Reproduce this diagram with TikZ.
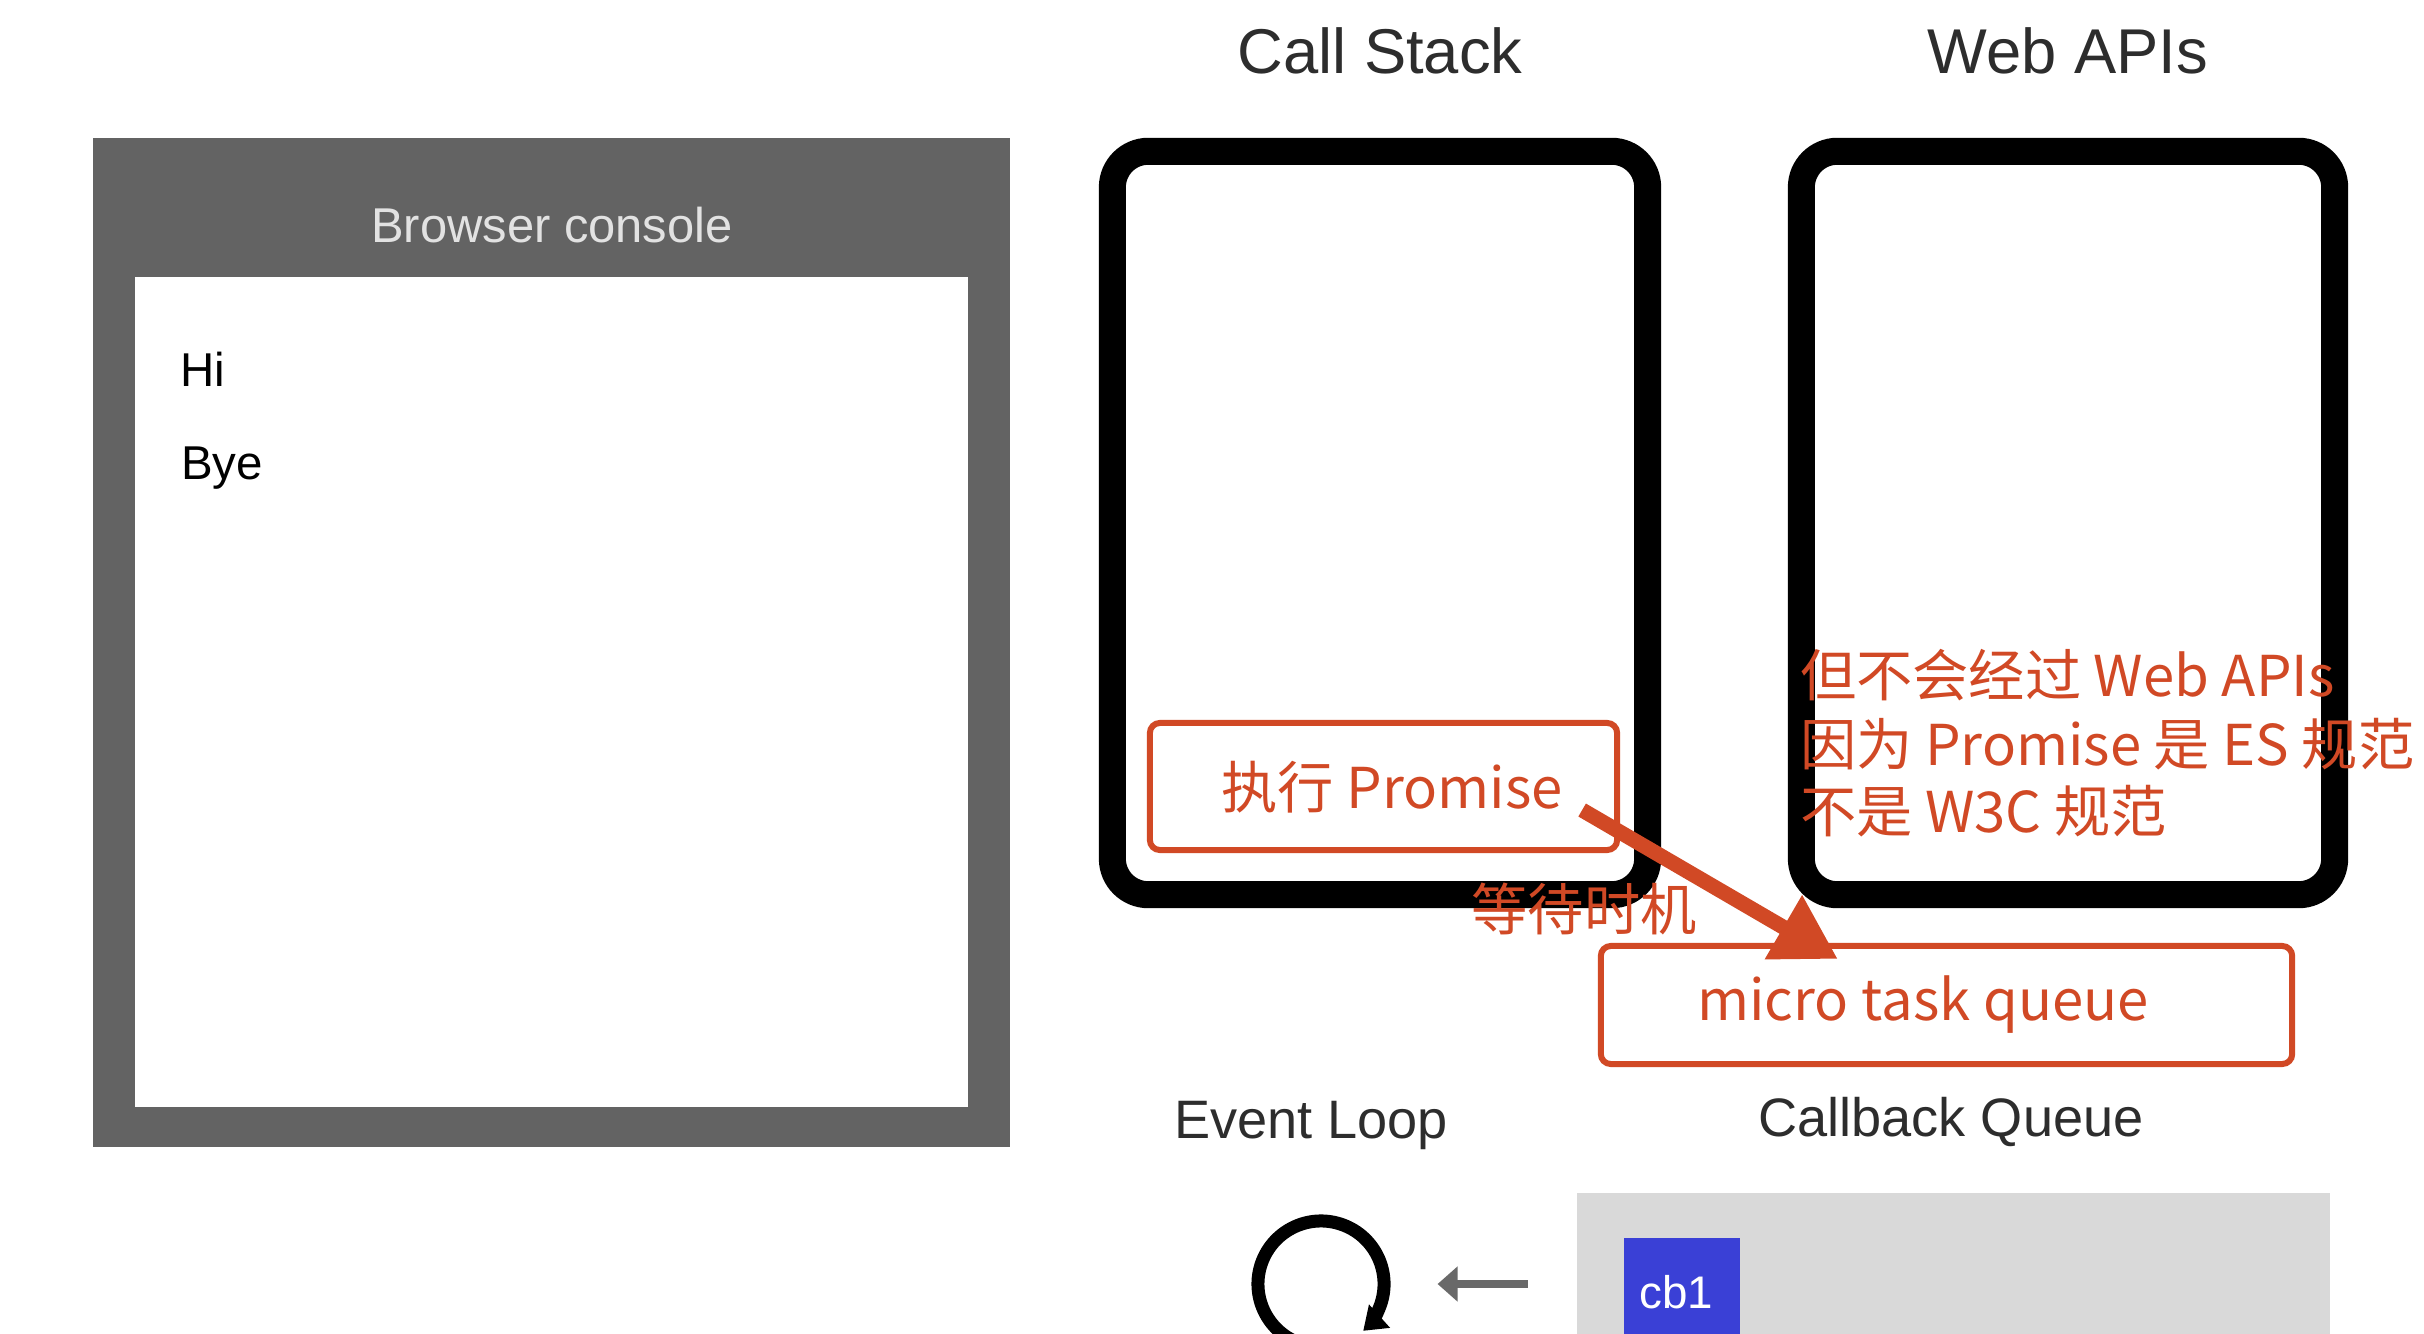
\documentclass[tikz,border=0pt]{standalone}
\usepackage{fontspec}
\setmainfont{Liberation Sans}
\newfontfamily\cjk{Noto Sans CJK SC}
\usetikzlibrary{arrows.meta,calc}
\definecolor{consolegray}{RGB}{99,99,99}
\definecolor{consoletext}{RGB}{226,226,226}
\definecolor{notered}{RGB}{209,73,37}
\definecolor{labelgray}{RGB}{45,45,45}
\definecolor{queuegray}{RGB}{217,217,217}
\definecolor{cbblue}{RGB}{58,64,214}
\definecolor{arrowgray}{RGB}{105,105,105}
\begin{document}
\begin{tikzpicture}[x=0.01cm,y=-0.01cm,
  plain/.style={inner sep=0pt,outer sep=0pt},
  panel/.style={plain,draw=black,line width=0.27cm,rounded corners=0.36cm},
  redbox/.style={plain,draw=notered,line width=0.06cm,rounded corners=0.1cm},
  title/.style={plain,anchor=base,text=labelgray,font=\fontsize{18}{20}\selectfont},
  sublabel/.style={plain,anchor=base,text=labelgray,font=\fontsize{15.4}{17}\selectfont},
  consoleline/.style={plain,anchor=base west,text=black,font=\fontsize{13.5}{15}\selectfont},
  redtext/.style={plain,text=notered,font=\cjk\fontsize{16}{19}\selectfont},
  redarrow/.style={draw=notered,line width=0.15cm,-{Triangle[length=0.63cm,width=0.7cm]}},
  grayarrow/.style={draw=arrowgray,line width=0.08cm,-{Triangle[length=0.2cm,width=0.34cm]}},
  loopstroke/.style={draw=black,line width=0.13cm,-{Triangle[length=0.22cm,width=0.3cm]}}
]
\useasboundingbox (0,0) rectangle (2424,1334);
\fill[white] (0,0) rectangle (2424,1334);
\clip (0,0) rectangle (2424,1334);

% browser console window
\node[plain,fill=consolegray,minimum width=9.17cm,minimum height=10.09cm] (console) at (551.5,642.5) {};
\node[plain,fill=white,minimum width=8.33cm,minimum height=8.30cm] (consolebody) at (551.5,692) {};
\node[plain,anchor=base,text=consoletext,font=\fontsize{13.9}{16}\selectfont] (consoletitle) at (552,243) {Browser console};
\node[consoleline] (hi) at (180,387) {Hi};
\node[consoleline] (bye) at (181,480) {Bye};

% call stack and web apis panels
\node[title] (stacktitle) at (1380,74) {Call Stack};
\node[title] (apititle) at (2068,74) {Web APIs};
\node[panel,minimum width=5.35cm,minimum height=7.43cm] (stack) at (1380,523) {};
\node[panel,minimum width=5.33cm,minimum height=7.43cm] (apis) at (2068,523) {};

% promise execution and micro task queue
\node[redbox,minimum width=4.67cm,minimum height=1.27cm] (prom) at (1383.5,786.5) {};
\node[redtext,anchor=base] (promlabel) at (1392,808) {执行 Promise};
\node[redbox,minimum width=6.91cm,minimum height=1.18cm] (micro) at (1946.5,1005) {};
\node[redtext,anchor=base] (microlabel) at (1923,1020) {micro task queue};

% explanatory note
\node[redtext,anchor=base west] (note1) at (1800,697) {但不会经过 Web APIs};
\node[redtext,anchor=base west] (note2) at (1800,765) {因为 Promise 是 ES 规范};
\node[redtext,anchor=base west] (note3) at (1800,832) {不是 W3C 规范};
\node[redtext,anchor=base] (wait) at (1584,930) {等待时机};

% hand-over arrow into the micro task queue
\coordinate (arrS) at ($(prom.south east)+(-35,-40)$);
\coordinate (arrT) at ($(micro.north west)+(237,13)$);
\draw[redarrow] (arrS) -- (arrT);

% event loop and callback queue
\node[sublabel] (looptitle) at (1311,1138) {Event Loop};
\node[sublabel] (cbtitle) at (1951,1136) {Callback Queue};
\node[plain,fill=queuegray,minimum width=7.53cm,minimum height=3cm] (cbq) at (1953.5,1343) {};
\node[plain,fill=cbblue,minimum width=1.16cm,minimum height=1.62cm] (cb1) at (1682,1319) {};
\node[plain,anchor=base,text=white,font=\fontsize{13}{15}\selectfont] (cb1label) at (1676,1308) {cb1};

\node[plain,circle,minimum size=1.39cm] (loop) at (1321,1284) {};
\draw[loopstroke] ($(loop.center)+(-110:0.63cm)$) arc[start angle=-110,end angle=-408,radius=0.63cm];
\draw[grayarrow,shorten <=0.49cm,shorten >=0.47cm] (cbq.west |- loop.east) -- (loop.east);
\end{tikzpicture}
\end{document}
